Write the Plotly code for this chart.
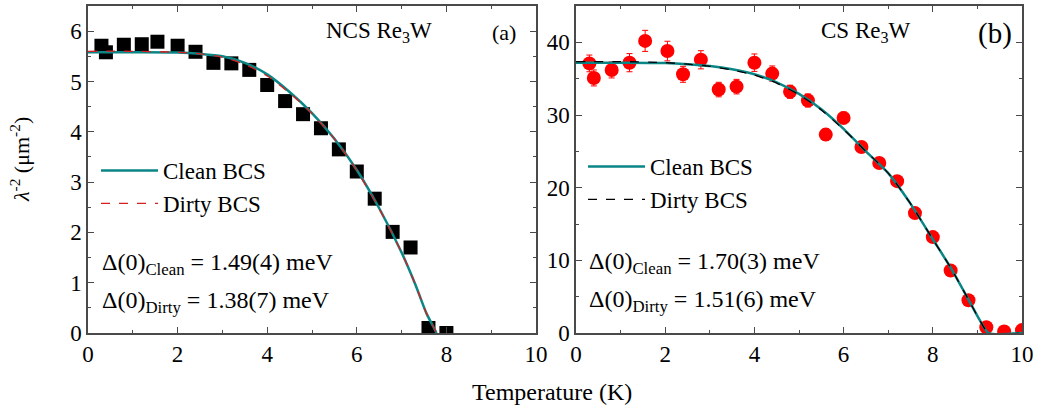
import plotly.graph_objects as go

# ---------------- data ----------------
# Panel (a) NCS Re3W
T_a = [0.3, 0.4, 0.8, 1.2, 1.55, 2.0, 2.4, 2.8, 3.2, 3.6, 4.0, 4.4, 4.8, 5.2, 5.6, 6.0, 6.4, 6.8, 7.2, 7.6, 8.0]
lam_a = [5.71, 5.58, 5.73, 5.74, 5.79, 5.71, 5.59, 5.37, 5.36, 5.23, 4.93, 4.61, 4.35, 4.07, 3.65, 3.21, 2.67, 2.01, 1.70, 0.10, 0.0]

T_fit_a = [0, 1, 2, 2.5, 3, 3.5, 4, 4.5, 5, 5.5, 6, 6.5, 7, 7.3, 7.55, 7.7, 7.78]
clean_a = [5.58, 5.58, 5.575, 5.55, 5.50, 5.37, 5.14, 4.79, 4.37, 3.86, 3.24, 2.48, 1.60, 0.98, 0.40, 0.14, 0.0]
dirty_a = [5.60, 5.60, 5.58, 5.55, 5.48, 5.34, 5.11, 4.77, 4.36, 3.86, 3.23, 2.47, 1.60, 0.98, 0.40, 0.14, 0.0]

# Panel (b) CS Re3W
T_b = [0.3, 0.4, 0.8, 1.2, 1.55, 2.05, 2.4, 2.8, 3.2, 3.6, 4.0, 4.4, 4.8, 5.2, 5.6, 6.0, 6.4, 6.8, 7.2, 7.6, 8.0, 8.4, 8.8, 9.2, 9.6, 10.0]
lam_b = [37.1, 35.1, 36.2, 37.2, 40.2, 38.8, 35.6, 37.6, 33.5, 33.9, 37.2, 35.7, 33.2, 32.0, 27.3, 29.6, 25.6, 23.4, 20.9, 16.5, 13.2, 8.6, 4.5, 0.8, 0.2, 0.4]
err_b = [1.15, 1.1, 1.1, 1.25, 1.45, 1.35, 1.1, 1.25, 1.0, 1.0, 1.2, 1.05, 0.9, 0.9, 0.8, 0.8, 0.7, 0.7, 0.6, 0.6, 0.5, 0.5, 0.4, 0.3, 0.3, 0.3]

T_fit_b = [0, 1, 2, 2.5, 3, 3.5, 4, 4.5, 5, 5.5, 6, 6.5, 7, 7.5, 8, 8.4, 8.8, 9.05, 9.25, 10]
clean_b = [37.2, 37.2, 37.15, 37.0, 36.75, 36.3, 35.6, 34.5, 32.9, 30.8, 28.1, 25.0, 22.0, 17.8, 12.9, 9.0, 4.6, 1.8, 0.0, 0.0]
dirty_b = [37.35, 37.35, 37.2, 37.0, 36.7, 36.2, 35.5, 34.4, 32.8, 30.7, 28.0, 25.0, 22.0, 17.8, 12.9, 9.0, 4.6, 1.8, 0.0, 0.0]

x_ticks = [0, 2, 4, 6, 8, 10]

# ---------------- styles ----------------
FONT = "Liberation Serif, Times New Roman, serif"
TEAL = "#0b8686"
AXC = "#4a4a4a"
W, H = 1043, 408

fig = go.Figure()

# panel (a)
fig.add_trace(go.Scatter(x=T_a, y=lam_a, mode="markers", showlegend=False,
                         marker=dict(symbol="square", size=14, color="black"),
                         xaxis="x", yaxis="y"))
fig.add_trace(go.Scatter(x=T_fit_a, y=clean_a, mode="lines", name="Clean BCS",
                         line=dict(color=TEAL, width=2.5, shape="spline", smoothing=0.8),
                         xaxis="x", yaxis="y", legend="legend"))
fig.add_trace(go.Scatter(x=T_fit_a, y=dirty_a, mode="lines", name="Dirty BCS",
                         line=dict(color="#d42020", width=1.3, dash="dash", shape="spline", smoothing=0.8),
                         xaxis="x", yaxis="y", legend="legend"))

# panel (b)
fig.add_trace(go.Scatter(x=T_b, y=lam_b, mode="markers", showlegend=False,
                         marker=dict(symbol="circle", size=14, color="#ff0000"),
                         error_y=dict(type="data", array=err_b, color="#ff0000", thickness=1, width=3),
                         xaxis="x2", yaxis="y2"))
fig.add_trace(go.Scatter(x=T_fit_b, y=clean_b, mode="lines", name="Clean BCS",
                         line=dict(color=TEAL, width=2.5, shape="spline", smoothing=0.6),
                         xaxis="x2", yaxis="y2", legend="legend2"))
fig.add_trace(go.Scatter(x=T_fit_b, y=dirty_b, mode="lines", name="Dirty BCS",
                         line=dict(color="black", width=1.3, dash="dash", shape="spline", smoothing=0.6),
                         xaxis="x2", yaxis="y2", legend="legend2"))

def px_x(p):
    return p / W

def px_y(p):
    return (H - p) / H

common_axis = dict(showline=True, linecolor=AXC, linewidth=1.5, mirror="ticks",
                   ticks="inside", ticklen=6, tickwidth=1.2, tickcolor=AXC,
                   showgrid=False, zeroline=False,
                   tickfont=dict(family=FONT, size=23, color="black"))

xa = dict(common_axis, range=[0, 10], tickvals=x_ticks,
          minor=dict(ticks="inside", ticklen=3, tickwidth=1, tickcolor=AXC, dtick=1, showgrid=False))

leg_common = dict(xanchor="left", yanchor="top", bgcolor="rgba(0,0,0,0)",
                  font=dict(family=FONT, size=23, color="black"), tracegroupgap=0, itemwidth=57)

fig.update_layout(
    width=W, height=H,
    margin=dict(l=0, r=0, t=0, b=0, autoexpand=False),
    paper_bgcolor="white", plot_bgcolor="white",
    font=dict(family=FONT, color="black"),
    xaxis=dict(xa, domain=[px_x(88), px_x(536)], anchor="y", automargin=False),
    yaxis=dict(common_axis, range=[0, 6.5], dtick=1, domain=[px_y(333), px_y(6)], anchor="x", automargin=False,
               minor=dict(ticks="inside", ticklen=3, tickwidth=1, tickcolor=AXC, dtick=0.5, showgrid=False)),
    xaxis2=dict(xa, domain=[px_x(576), px_x(1022)], anchor="y2", automargin=False),
    yaxis2=dict(common_axis, range=[0, 45], dtick=10, domain=[px_y(333), px_y(6)], anchor="x2", automargin=False,
                minor=dict(ticks="inside", ticklen=3, tickwidth=1, tickcolor=AXC, dtick=5, showgrid=False)),
    legend=dict(leg_common, x=px_x(96), y=px_y(149)),
    legend2=dict(leg_common, x=px_x(583), y=px_y(145)),
)

ann_font = dict(family=FONT, size=24, color="black")
annotations = [
    dict(text="NCS Re<sub>3</sub>W", x=px_x(434), y=px_y(32), xanchor="right", yanchor="middle", font=dict(family=FONT, size=23, color="black")),
    dict(text="(a)", x=px_x(518), y=px_y(32), xanchor="right", yanchor="middle", font=dict(family=FONT, size=22, color="black")),
    dict(text="CS Re<sub>3</sub>W", x=px_x(912), y=px_y(32), xanchor="right", yanchor="middle", font=dict(family=FONT, size=23, color="black")),
    dict(text="(b)", x=px_x(1014), y=px_y(33), xanchor="right", yanchor="middle", font=dict(family=FONT, size=29, color="black")),
    dict(text="Δ(0)<sub>Clean</sub> = 1.49(4) meV", x=px_x(100), y=px_y(264), xanchor="left", yanchor="middle", font=ann_font),
    dict(text="Δ(0)<sub>Dirty</sub> = 1.38(7) meV", x=px_x(100), y=px_y(302), xanchor="left", yanchor="middle", font=ann_font),
    dict(text="Δ(0)<sub>Clean</sub> = 1.70(3) meV", x=px_x(587), y=px_y(263), xanchor="left", yanchor="middle", font=ann_font),
    dict(text="Δ(0)<sub>Dirty</sub> = 1.51(6) meV", x=px_x(587), y=px_y(301), xanchor="left", yanchor="middle", font=ann_font),
    dict(text="Temperature (K)", x=px_x(552), y=px_y(392), xanchor="center", yanchor="middle", font=ann_font),
    dict(text="<i>λ</i><sup>-2</sup> (μm<sup>-2</sup>)", x=px_x(20), y=px_y(160), xanchor="center", yanchor="middle",
         textangle=-90, font=dict(family=FONT, size=22, color="black")),
]
for a in annotations:
    a.update(xref="paper", yref="paper", showarrow=False)
fig.update_layout(annotations=annotations)

fig.write_html("out.html", config={"displayModeBar": False},
               post_script="document.body.style.margin='0';document.body.style.padding='0';")
